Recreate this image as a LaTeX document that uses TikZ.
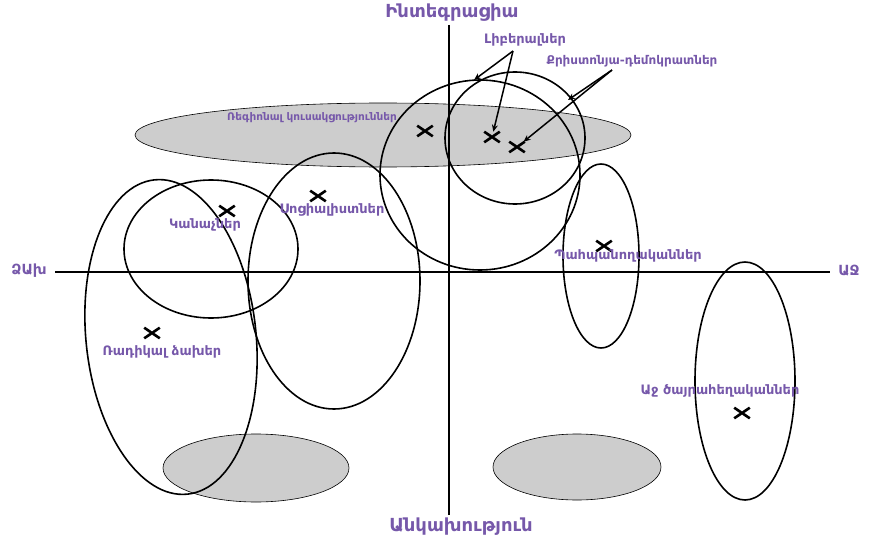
\documentclass[tikz,border=0pt]{standalone}
\usepackage{fontspec}
\newfontfamily\armfont{DejaVu Sans}
\usetikzlibrary{shapes.misc,arrows.meta}
\definecolor{lbl}{RGB}{118,88,170}
\definecolor{shade}{RGB}{205,205,205}
\tikzset{
  lab/.style={font=\armfont\bfseries\fontsize{13}{15}\selectfont, text=lbl, inner sep=1pt},
  axlab/.style={font=\armfont\bfseries\fontsize{18}{20}\selectfont, text=lbl, inner sep=1pt},
  ring/.style={draw=black, line width=1.6pt},
  blob/.style={draw=black, line width=0.6pt, fill=shade},
  xmark/.style={cross out, draw=black, line width=2.6pt, minimum width=13pt, minimum height=8pt, inner sep=0pt},
  pointer/.style={draw=black, line width=1.5pt, -{Stealth[length=7pt,width=6pt]}},
  axis/.style={draw=black, line width=1.2pt}
}
\begin{document}
\begin{tikzpicture}[x=1pt,y=-1pt]
\useasboundingbox (0,0) rectangle (876,543);
% shaded ellipses
\path[blob] (383,135) ellipse [x radius=248, y radius=32];
\path[blob] (256,468) ellipse [x radius=93, y radius=34];
\path[blob] (577,467) ellipse [x radius=84, y radius=33];
% axes
\coordinate (ytop) at (449,25);
\coordinate (ybot) at (449,515);
\coordinate (xl) at (55,272);
\coordinate (xr) at (830,272);
\draw[axis] (ytop) -- (ybot);
\draw[axis] (xl) -- (xr);
% rings
\draw[ring] (211,249) ellipse [x radius=87, y radius=69];
\draw[ring, rotate around={6:(171,337)}] (171,337) ellipse [x radius=85, y radius=158];
\draw[ring] (334,281) ellipse [x radius=86, y radius=128];
\draw[ring] (480,175) ellipse [x radius=100, y radius=95];
\draw[ring] (515,138) ellipse [x radius=70, y radius=66];
\draw[ring] (601,256) ellipse [x radius=38, y radius=92];
\draw[ring] (745,381) ellipse [x radius=50, y radius=119];
% crosses
\node[xmark] (c1) at (425,131) {};
\node[xmark] (c2) at (492,137) {};
\node[xmark] (c3) at (517,147) {};
\node[xmark] (c4) at (227,211) {};
\node[xmark] (c5) at (318,196) {};
\node[xmark] (c6) at (604,246) {};
\node[xmark] (c7) at (152,333) {};
\node[xmark] (c8) at (742,413) {};
% labels
\node[axlab] (top) at (452,13) {Ինտեգրացիա};
\node[axlab] (bot) at (461,527) {Անկախություն};
\node[axlab, font=\armfont\bfseries\fontsize{14}{16}\selectfont] (left) at (29,271) {ՁԱխ};
\node[axlab, font=\armfont\bfseries\fontsize{14}{16}\selectfont] (right) at (849,271) {ԱՋ};
\node[lab] (lib) at (525,40) {Լիբերալներ};
\node[lab, font=\armfont\bfseries\fontsize{12}{14}\selectfont] (cd) at (632,61) {Քրիստոնյա-դեմոկրատներ};
\node[lab, font=\armfont\bfseries\fontsize{10.5}{12}\selectfont] (reg) at (312,118) {Ռեգիոնալ կուսակցություններ};
\node[lab] (green) at (205,225) {Կանաչներ};
\node[lab] (soc) at (332,210) {Սոցիալիստներ};
\node[lab] (cons) at (628,256) {Պահպանողականներ};
\node[lab] (rad) at (162,352) {Ռադիկալ ձախեր};
\node[lab] (far) at (720,391) {Աջ ծայրահեղականներ};
% pointers
\coordinate (libS) at (513,51);
\coordinate (cdS) at (612,70);
\coordinate (libL) at (474,80);
\coordinate (cdR) at (568,100);
\draw[pointer] (libS) -- (c2);
\draw[pointer] (libS) -- (libL);
\draw[pointer] (cdS) -- (c3);
\draw[pointer] (cdS) -- (cdR);
\end{tikzpicture}
\end{document}
